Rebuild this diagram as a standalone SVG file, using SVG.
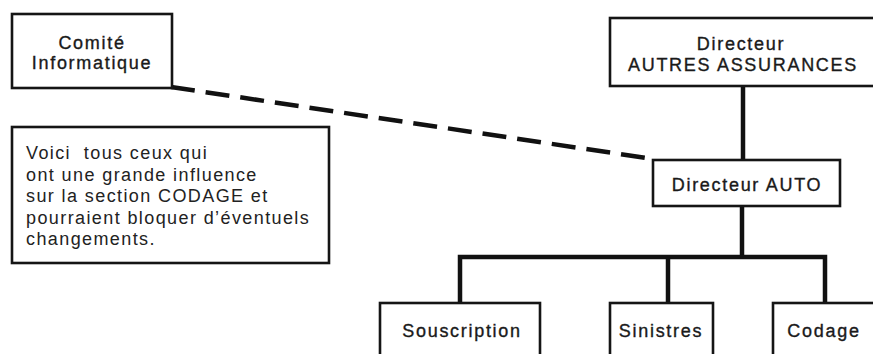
<svg xmlns="http://www.w3.org/2000/svg" width="873" height="354" viewBox="0 0 873 354">
  <style>
    .box { fill: #fff; stroke: #151515; stroke-width: 2.6; }
    .lbl { font-family: "Liberation Sans", Arial, sans-serif; font-size: 18px; fill: #1a1a1a; stroke: #1a1a1a; stroke-width: 0.35; letter-spacing: 1.7px; text-anchor: middle; }
    .note { font-family: "Liberation Sans", Arial, sans-serif; font-size: 18px; fill: #222; letter-spacing: 1.4px; }
    .link { fill: none; stroke: #111; stroke-width: 4.5; stroke-linecap: butt; }
    .dash { fill: none; stroke: #111; stroke-width: 4.5; stroke-dasharray: 24 11; }
  </style>
  <rect width="873" height="354" fill="#fff"/>

  <!-- connectors -->
  <g id="connectors">
    <path class="dash" d="M171 87 L653 159"/>
    <path class="link" d="M743 86 V160"/>
    <path class="link" d="M742 206 V257"/>
    <path class="link" d="M460 303 V257 H825 V303"/>
    <path class="link" d="M668 257 V303"/>
  </g>

  <g id="comite">
    <rect class="box" x="12" y="14" width="160" height="74"/>
    <text class="lbl" x="92" y="49">Comité</text>
    <text class="lbl" x="92" y="69">Informatique</text>
  </g>

  <g id="dir-autres">
    <rect class="box" x="610" y="18" width="266" height="68"/>
    <text class="lbl" x="741" y="50">Directeur</text>
    <text class="lbl" x="743" y="71">AUTRES ASSURANCES</text>
  </g>

  <g id="note">
    <rect class="box" x="12" y="127" width="317" height="136" stroke-width="3"/>
    <text class="note" x="26" y="159" xml:space="preserve">Voici  tous ceux qui</text>
    <text class="note" x="26" y="181">ont une grande influence</text>
    <text class="note" x="26" y="202">sur la section CODAGE et</text>
    <text class="note" x="26" y="224">pourraient bloquer d’éventuels</text>
    <text class="note" x="26" y="245">changements.</text>
  </g>

  <g id="dir-auto">
    <rect class="box" x="653" y="160" width="187" height="46"/>
    <text class="lbl" x="747" y="191">Directeur AUTO</text>
  </g>

  <g id="souscription">
    <rect class="box" x="380" y="303" width="160" height="60"/>
    <text class="lbl" x="462" y="337">Souscription</text>
  </g>

  <g id="sinistres">
    <rect class="box" x="610" y="303" width="103" height="60"/>
    <text class="lbl" x="661" y="337">Sinistres</text>
  </g>

  <g id="codage">
    <rect class="box" x="773" y="303" width="103" height="60"/>
    <text class="lbl" x="824" y="337">Codage</text>
  </g>
</svg>
